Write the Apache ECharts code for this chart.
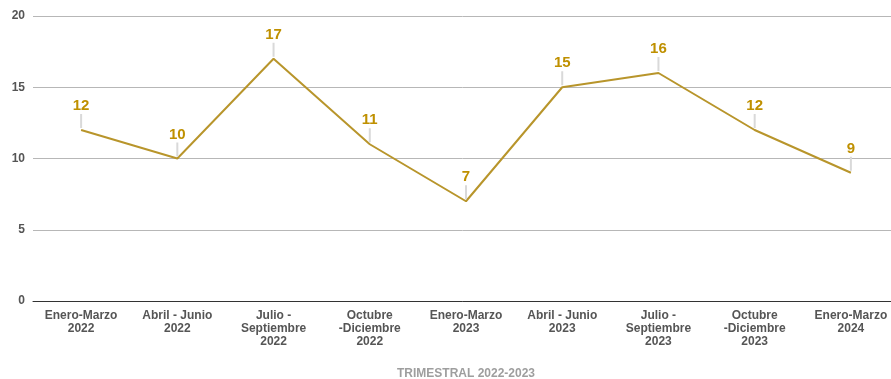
<!DOCTYPE html>
<html>
<head>
<meta charset="utf-8">
<script src="https://cdn.jsdelivr.net/npm/echarts@6/dist/echarts.min.js"></script>
<style>
  html, body { margin: 0; padding: 0; background: #fff; }
  #chart { width: 891px; height: 379px; }
</style>
</head>
<body>
<div id="chart"></div>
<script>
// trimestres
var categorias = ['Enero-Marzo\n2022', 'Abril - Junio\n2022', 'Julio -\nSeptiembre\n2022', 'Octubre\n-Diciembre\n2022',
    'Enero-Marzo\n2023', 'Abril - Junio\n2023', 'Julio -\nSeptiembre\n2023', 'Octubre\n-Diciembre\n2023', 'Enero-Marzo\n2024'];
var valores = [12, 10, 17, 11, 7, 15, 16, 12, 9];
var ejeY = { min: 0, max: 20, interval: 5 };

var etiquetas = [];
for (var i = 0; i < valores.length; i++) {
    etiquetas.push([i, valores[i]]);
}

//linea guia + etiqueta de cada punto
function renderEtiqueta(params, api) {
    var p = api.coord([api.value(0), api.value(1)]);
    return {
        type: 'group',
        children: [
            {
                type: 'line',
                shape: { x1: p[0], y1: p[1] - 2, x2: p[0], y2: p[1] - 16 },
                style: { stroke: '#d9d9d9', lineWidth: 2 }
            },
            {
                type: 'text',
                x: p[0],
                y: p[1] - 24,
                style: {
                    text: String(api.value(1)),
                    align: 'center',
                    verticalAlign: 'middle',
                    fill: '#bf9000',
                    font: 'bold 15px Liberation Sans, Arial, sans-serif',
                    stroke: '#ffffff',
                    lineWidth: 3
                }
            }
        ]
    };
}

var myChart = echarts.init(document.getElementById('chart'));
var option = {
    backgroundColor: '#ffffff',
    textStyle: { fontFamily: 'Liberation Sans, Arial, sans-serif' },
    grid: { left: 33, top: 16, width: 866, height: 285, containLabel: false, outerBoundsMode: 'none' },
    xAxis: {
        type: 'category',
        data: categorias,
        boundaryGap: true,
        name: 'TRIMESTRAL 2022-2023',
        nameLocation: 'middle',
        nameGap: 67,
        nameTextStyle: { color: '#9e9e9e', fontWeight: 'bold', fontSize: 12 },
        axisLine: { lineStyle: { color: '#333', width: 1 } },
        axisTick: { show: false },
        axisLabel: { color: '#555555', fontWeight: 'bold', fontSize: 12, lineHeight: 13, interval: 0, margin: 8 }
    },
    yAxis: {
        type: 'value',
        min: ejeY.min,
        max: ejeY.max,
        interval: ejeY.interval,
        axisLine: { show: false },
        axisTick: { show: false },
        axisLabel: { color: '#555555', fontWeight: 'bold', fontSize: 12, margin: 8 },
        splitLine: { lineStyle: { color: '#b7b7b7', width: 1 } }
    },
    series: [
        {
            type: 'line',
            data: valores,
            symbol: 'none',
            lineStyle: { color: '#b8952b', width: 2 },
            z: 2
        },
        {
            type: 'custom',
            data: etiquetas,
            renderItem: renderEtiqueta,
            clip: false,
            silent: true,
            z: 3
        }
    ]
};
myChart.setOption(option, true);
</script>
</body>
</html>
